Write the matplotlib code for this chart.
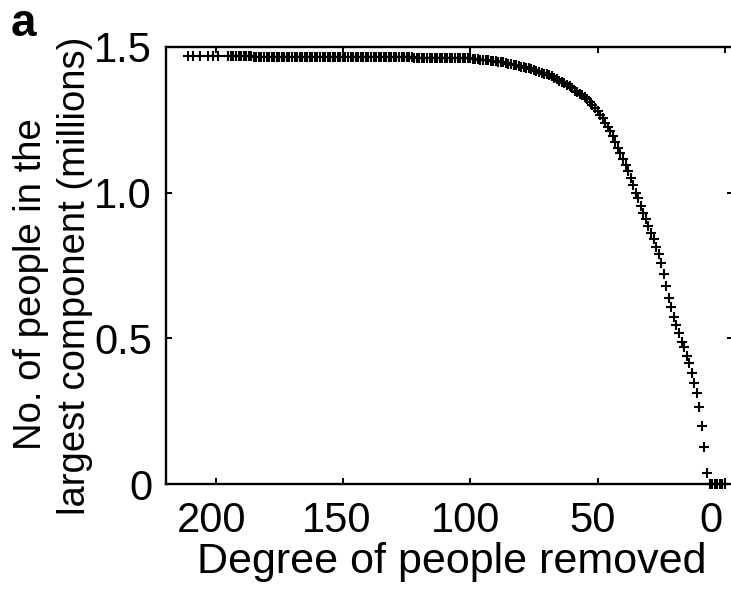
import matplotlib
matplotlib.use("Agg")
import matplotlib.pyplot as plt
from matplotlib.transforms import ScaledTranslation

plt.rcParams['font.family'] = ['Liberation Sans', 'DejaVu Sans']

# Sparse points at the highest degrees
degree_sparse = [211, 209, 206, 203, 201, 199]
size_sparse = [1.470, 1.470, 1.470, 1.470, 1.470, 1.470]

# Dense points, degree 195 down to 0 (millions of people in the largest component)
degree_dense = [
    195, 194, 193, 192, 191, 190, 189, 188, 187, 186,
    185, 184, 183, 182, 181, 180, 179, 178, 177, 176,
    175, 174, 173, 172, 171, 170, 169, 168, 167, 166,
    165, 164, 163, 162, 161, 160, 159, 158, 157, 156,
    155, 154, 153, 152, 151, 150, 149, 148, 147, 146,
    145, 144, 143, 142, 141, 140, 139, 138, 137, 136,
    135, 134, 133, 132, 131, 130, 129, 128, 127, 126,
    125, 124, 123, 122, 121, 120, 119, 118, 117, 116,
    115, 114, 113, 112, 111, 110, 109, 108, 107, 106,
    105, 104, 103, 102, 101, 100, 99, 98, 97, 96,
    95, 94, 93, 92, 91, 90, 89, 88, 87, 86,
    85, 84, 83, 82, 81, 80, 79, 78, 77, 76,
    75, 74, 73, 72, 71, 70, 69, 68, 67, 66,
    65, 64, 63, 62, 61, 60, 59, 58, 57, 56,
    55, 54, 53, 52, 51, 50, 49, 48, 47, 46,
    45, 44, 43, 42, 41, 40, 39, 38, 37, 36,
    35, 34, 33, 32, 31, 30, 29, 28, 27, 26,
    25, 24, 23, 22, 21, 20, 19, 18, 17, 16,
    15, 14, 13, 12, 11, 10, 9, 8, 7, 6,
    5, 4, 3, 2, 1, 0,
]
size_dense = [
    1.468, 1.468, 1.468, 1.468, 1.468, 1.468, 1.468, 1.468, 1.468, 1.468,
    1.467, 1.467, 1.467, 1.467, 1.467, 1.467, 1.467, 1.467, 1.467, 1.467,
    1.467, 1.467, 1.467, 1.467, 1.467, 1.466, 1.466, 1.466, 1.466, 1.466,
    1.466, 1.466, 1.466, 1.466, 1.466, 1.466, 1.466, 1.466, 1.466, 1.466,
    1.466, 1.466, 1.466, 1.466, 1.466, 1.465, 1.465, 1.465, 1.465, 1.465,
    1.465, 1.465, 1.465, 1.465, 1.465, 1.465, 1.465, 1.465, 1.465, 1.465,
    1.464, 1.464, 1.464, 1.464, 1.464, 1.464, 1.464, 1.464, 1.464, 1.464,
    1.464, 1.464, 1.464, 1.463, 1.463, 1.463, 1.463, 1.463, 1.463, 1.463,
    1.463, 1.463, 1.463, 1.462, 1.462, 1.462, 1.462, 1.462, 1.462, 1.462,
    1.462, 1.462, 1.461, 1.461, 1.461, 1.461, 1.460, 1.459, 1.458, 1.457,
    1.456, 1.455, 1.454, 1.453, 1.452, 1.451, 1.450, 1.449, 1.447, 1.445,
    1.443, 1.441, 1.439, 1.437, 1.435, 1.433, 1.431, 1.429, 1.427, 1.424,
    1.421, 1.418, 1.415, 1.412, 1.409, 1.406, 1.403, 1.400, 1.395, 1.390,
    1.385, 1.380, 1.375, 1.370, 1.365, 1.360, 1.350, 1.345, 1.340, 1.335,
    1.330, 1.320, 1.310, 1.300, 1.290, 1.280, 1.265, 1.255, 1.240, 1.225,
    1.210, 1.195, 1.175, 1.155, 1.135, 1.115, 1.095, 1.075, 1.050, 1.025,
    1.000, 0.980, 0.955, 0.930, 0.910, 0.885, 0.860, 0.840, 0.815, 0.790,
    0.760, 0.720, 0.680, 0.640, 0.607, 0.574, 0.546, 0.517, 0.488, 0.471,
    0.439, 0.414, 0.380, 0.346, 0.311, 0.263, 0.200, 0.126, 0.039, 0.000,
    0.000, 0.000, 0.000, 0.000, 0.000, 0.000,
]

x_ticks = [200, 150, 100, 50, 0]
y_ticks = [0, 0.5, 1.0, 1.5]
y_tick_labels = ['0', '0.5', '1.0', '1.5']
y_label_lines = ['No. of people in the', 'largest component (millions)']

W, H = 731, 595
fig = plt.figure(figsize=(W / 100, H / 100), dpi=100)
ax = fig.add_axes([166 / W, (H - 484) / H, (733 - 166) / W, (484 - 47) / H])

marker_kw = dict(linestyle='none', marker='+', color='black',
                 markersize=6.5, markeredgewidth=1.5, clip_on=False)
ax.plot(degree_sparse, size_sparse, **marker_kw)
ax.plot(degree_dense, size_dense, **marker_kw)

ax.set_xlim(219.5, -3.2)
ax.set_ylim(0, 1.5)
ax.set_xticks(x_ticks)
ax.set_xticklabels([str(v) for v in x_ticks])
ax.set_yticks(y_ticks)
ax.set_yticklabels(y_tick_labels)

for s in ax.spines.values():
    s.set_linewidth(1.7)
ax.tick_params(direction='in', length=4.5, width=1.4, top=True, right=True,
               colors='black')
ax.tick_params(axis='x', pad=12, labelsize=30)
ax.tick_params(axis='y', pad=10, labelsize=30)

# nudge the x tick labels slightly left, as in the reference; "0" more so
for lab, dx in zip(ax.get_xticklabels(), [-4, -6, -5, -5, -14]):
    lab.set_transform(lab.get_transform() + ScaledTranslation(dx / 100, 0, fig.dpi_scale_trans))

fig.text(452 / W, 1 - 562 / H, 'Degree of people removed', ha='center',
         va='center', fontsize=31)
fig.text(31 / W, 1 - 284 / H, y_label_lines[0], rotation=90, ha='center',
         va='center', fontsize=27.5)
fig.text(75 / W, 1 - 276 / H, y_label_lines[1], rotation=90, ha='center',
         va='center', fontsize=27.5)
fig.text(11 / W, 1 - 36 / H, 'a', fontsize=33, fontweight='bold',
         ha='left', va='baseline')

fig.savefig('out.png', dpi=100)
